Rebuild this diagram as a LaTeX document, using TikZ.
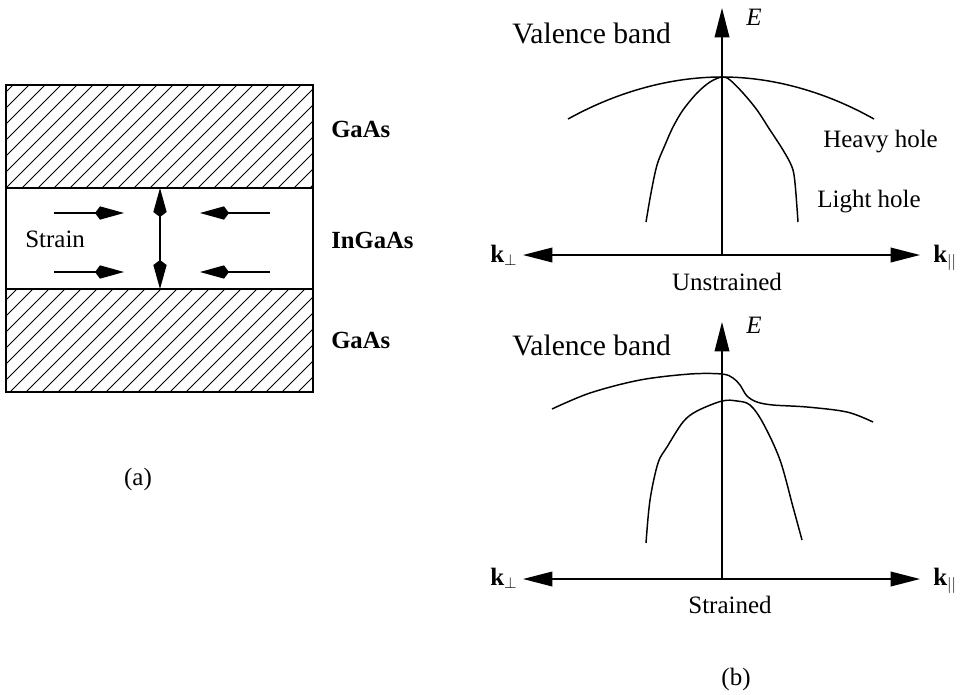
\documentclass[tikz,border=0pt]{standalone}
\usepackage{fontspec}
\setmainfont{Liberation Serif}
\usetikzlibrary{arrows.meta}
\tikzset{
  px/.style={x=0.75pt,y=-0.75pt},
  ln/.style={line width=1.1pt},
  hatchln/.style={line width=0.6pt},
  axis/.style={line width=1.1pt,-{Triangle[length=22pt,width=11pt]}},
  axisboth/.style={line width=1.1pt,{Triangle[length=22pt,width=11pt]}-{Triangle[length=22pt,width=11pt]}},
  strainarr/.style={line width=1.1pt,-{Kite[length=21.75pt,width=10pt,inset=3.75pt]}},
  strainboth/.style={line width=1.1pt,{Kite[length=21.75pt,width=10pt,inset=3.75pt]}-{Kite[length=21.75pt,width=10pt,inset=3.75pt]}},
  lbl/.style={inner sep=0pt,font=\fontsize{18.75}{22}\selectfont},
  blbl/.style={inner sep=0pt,font=\fontsize{18.5}{22}\selectfont\bfseries},
  biglbl/.style={inner sep=0pt,font=\fontsize{22.2}{26}\selectfont},
  curve/.style={line width=1.1pt,smooth,tension=0.55}
}
\begin{document}
\begin{tikzpicture}[px]
\useasboundingbox (0,0) rectangle (966,694);
% ---------- (a) layers ----------
\begin{scope}
  \clip (6,85) rectangle (313,188);
  \foreach \k in {0,...,45} \draw[hatchln] ({2+16*\k-400},400) -- ({2+16*\k},0);
\end{scope}
\begin{scope}
  \clip (6,289) rectangle (313,392);
  \foreach \k in {0,...,50} \draw[hatchln] ({2+16*\k-500},500) -- ({2+16*\k},0);
\end{scope}
\draw[ln] (6,85) rectangle (313,392);
\draw[ln] (6,188) -- (313,188);
\draw[ln] (6,289) -- (313,289);
% strain arrows
\coordinate (a1s) at (54,213); \coordinate (a1e) at (124,213);
\coordinate (a2s) at (54,272); \coordinate (a2e) at (124,272);
\coordinate (a3s) at (270,213); \coordinate (a3e) at (200,213);
\coordinate (a4s) at (270,272); \coordinate (a4e) at (200,272);
\coordinate (vt) at (160,188); \coordinate (vb) at (160,289);
\draw[strainarr] (a1s) -- (a1e);
\draw[strainarr] (a2s) -- (a2e);
\draw[strainarr] (a3s) -- (a3e);
\draw[strainarr] (a4s) -- (a4e);
\draw[strainboth] (vt) -- (vb);
\node[lbl,anchor=base west] (strain) at (25,247) {Strain};
\node[blbl,anchor=base west] (gaas1) at (331,137) {GaAs};
\node[blbl,anchor=base west] (ingaas) at (331,248) {InGaAs};
\node[blbl,anchor=base west] (gaas2) at (331,348) {GaAs};
\node[lbl,anchor=base] (capa) at (138,485) {(a)};
% ---------- (b) top: unstrained ----------
\coordinate (o1) at (722,255);
\coordinate (e1) at (722,8);
\coordinate (l1) at (523,255);
\coordinate (r1) at (920,255);
\draw[axis] (o1) -- (e1);
\draw[axisboth] (l1) -- (r1);
\node[lbl,anchor=base,font=\fontsize{18.75}{22}\selectfont\itshape] (E1) at (754,25) {E};
\node[biglbl,anchor=base west] (vb1) at (512,43) {Valence band};
\node[lbl,anchor=base west] (kp1) at (490,262) {\textbf{k}$_{\perp}$};
\node[lbl,anchor=base west] (kl1) at (933,262) {\textbf{k}$_{||}$};
\node[lbl,anchor=base] (unstr) at (727,290) {Unstrained};
\node[lbl,anchor=base west] (hh) at (823,147) {Heavy hole};
\node[lbl,anchor=base west] (lh) at (817,207) {Light hole};
\draw[ln] (568,119) parabola bend (722,77) (874,119);
\draw[curve] plot coordinates {(646,222) (651,193) (657,165) (665,145) (673,127) (683,110) (697,93) (710,82) (722,77) (730,80) (743,93) (757,110) (770,130) (783,150) (792,167) (795,183) (798,222)};
% ---------- (b) bottom: strained ----------
\coordinate (o2) at (722,579);
\coordinate (e2) at (722,322);
\coordinate (l2) at (523,579);
\coordinate (r2) at (920,579);
\draw[axis] (o2) -- (e2);
\draw[axisboth] (l2) -- (r2);
\node[lbl,anchor=base,font=\fontsize{18.75}{22}\selectfont\itshape] (E2) at (754,333) {E};
\node[biglbl,anchor=base west] (vb2) at (512,355) {Valence band};
\node[lbl,anchor=base west] (kp2) at (490,585) {\textbf{k}$_{\perp}$};
\node[lbl,anchor=base west] (kl2) at (933,585) {\textbf{k}$_{||}$};
\node[lbl,anchor=base] (str) at (730,613) {Strained};
\draw[curve] plot coordinates {(552,409) (590,393) (640,380) (690,374) (722,374) (733,378) (740,385) (747,396) (757,402) (773,405) (807,407) (847,412) (873,422)};
\draw[curve] plot coordinates {(646,543) (650,500) (658,463) (667,447) (683,422) (697,411) (722,401) (737,401) (750,405) (763,423) (780,460) (793,507) (802,540)};
\node[lbl,anchor=base] (capb) at (736,685) {(b)};
\end{tikzpicture}
\end{document}
